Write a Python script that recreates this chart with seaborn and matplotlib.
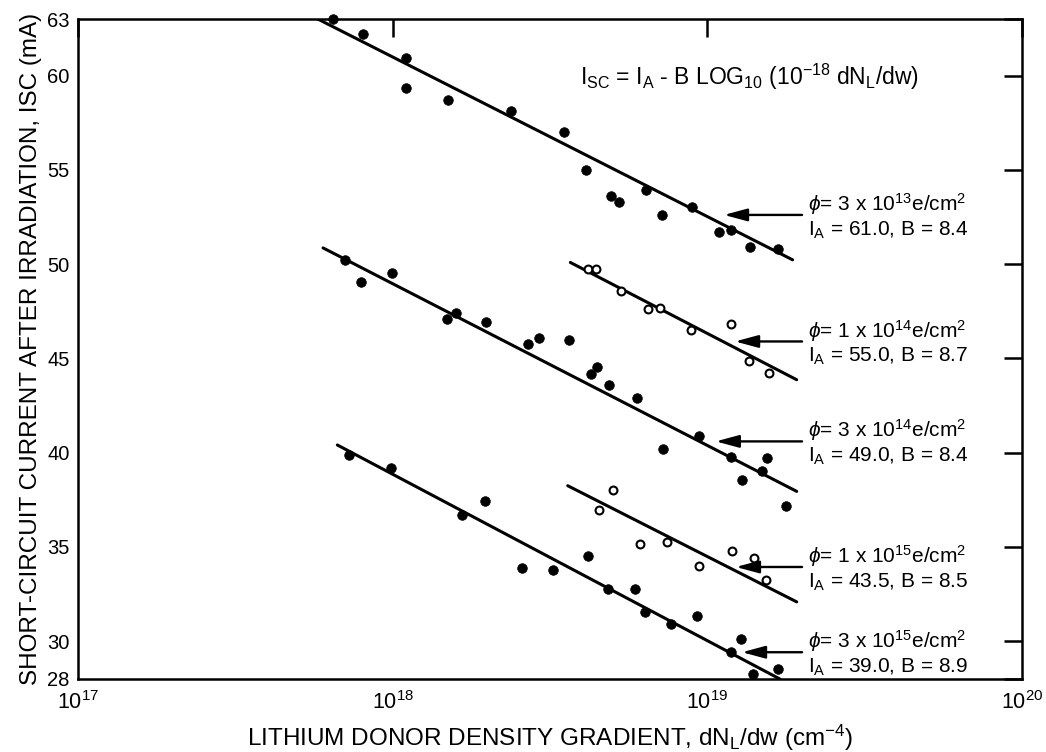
import matplotlib
matplotlib.use("Agg")
import matplotlib.pyplot as plt
import seaborn as sns
import pandas as pd

# ---------------- data ----------------
# phi = 3e13 e/cm^2 (filled)
s1_x = [6.46e17, 8.02e17, 1.099e18, 1.099e18, 1.496e18, 2.377e18, 3.499e18, 4.102e18,
        4.943e18, 5.248e18, 6.368e18, 7.161e18, 8.93e18, 1.089e19, 1.186e19, 1.371e19, 1.675e19]
s1_y = [63.0, 62.19, 60.93, 59.36, 58.71, 58.12, 57.0, 54.98,
        53.64, 53.3, 53.92, 52.61, 53.04, 51.68, 51.82, 50.92, 50.81]
# phi = 1e14 e/cm^2 (open)
s2_x = [4.183e18, 4.426e18, 5.303e18, 6.486e18, 7.047e18, 8.851e18, 1.186e19, 1.361e19, 1.570e19]
s2_y = [49.72, 49.76, 48.58, 47.6, 47.65, 46.5, 46.8, 44.84, 44.25]
# phi = 3e14 e/cm^2 (filled)
s3_x = [7.05e17, 7.93e17, 9.93e17, 1.489e18, 1.585e18, 1.982e18, 2.685e18, 2.911e18,
        3.622e18, 4.256e18, 4.446e18, 4.853e18, 5.957e18, 7.244e18, 9.419e18, 1.189e19,
        1.552e19, 1.496e19, 1.291e19, 1.778e19]
s3_y = [50.23, 49.05, 49.52, 47.08, 47.4, 46.93, 45.78, 46.06,
        45.96, 44.17, 44.55, 43.6, 42.89, 40.22, 40.87, 39.78,
        39.71, 39.01, 38.53, 37.19]
# phi = 1e15 e/cm^2 (open)
s4_x = [5.000e18, 4.529e18, 6.109e18, 7.430e18, 9.376e18, 1.194e19, 1.406e19, 1.535e19]
s4_y = [38.0, 36.94, 35.16, 35.25, 34.0, 34.77, 34.4, 33.25]
# phi = 3e15 e/cm^2 (filled)
s5_x = [7.29e17, 9.86e17, 1.663e18, 1.963e18, 2.570e18, 3.236e18, 4.169e18, 4.819e18,
        5.902e18, 6.339e18, 7.638e18, 9.247e18, 1.279e19, 1.186e19, 1.400e19, 1.679e19]
s5_y = [39.88, 39.17, 36.68, 37.46, 33.89, 33.8, 34.53, 32.77,
        32.78, 31.56, 30.9, 31.36, 30.14, 29.45, 28.25, 28.54]

# fitted lines (end points)
line_x0 = [5.78e17, 3.67e18, 6.01e17, 3.60e18, 6.67e17]
line_x1 = [1.866e19, 1.923e19, 1.923e19, 1.923e19, 1.70e19]
line_y0 = [63.0, 50.09, 50.86, 38.25, 40.41]
line_y1 = [50.23, 43.87, 37.95, 32.09, 28.0]

fluence_mant = [3, 1, 3, 1, 3]
fluence_exp = [13, 14, 14, 15, 15]
IA = ["61.0", "55.0", "49.0", "43.5", "39.0"]
Bval = ["8.4", "8.7", "8.4", "8.5", "8.9"]
filled = [True, False, True, False, True]

x_ticks = [1e17, 1e18, 1e19, 1e20]
x_ticklabels = ["$10^{17}$", "$10^{18}$", "$10^{19}$", "$10^{20}$"]
y_ticks = [28, 30, 35, 40, 45, 50, 55, 60, 63]

# ---------------- positions (annotation layout) ----------------
arrow_y = [52.61, 45.9, 40.6, 33.94, 29.42]
arrow_head_x = [1.13e19, 1.225e19, 1.064e19, 1.233e19, 1.289e19]
arrow_tail_x = 2.0e19
text_x = 2.09e19

# ---------------- style ----------------
sns.set_style("white")
plt.rcParams["font.family"] = ["Liberation Sans", "DejaVu Sans"]
plt.rcParams["mathtext.fontset"] = "custom"
plt.rcParams["mathtext.rm"] = "Liberation Sans"
plt.rcParams["mathtext.it"] = "Liberation Sans:italic"
plt.rcParams["mathtext.bf"] = "Liberation Sans:bold"
plt.rcParams["mathtext.sf"] = "Liberation Sans"
for k in ["text.color", "axes.labelcolor", "xtick.color", "ytick.color", "axes.edgecolor"]:
    plt.rcParams[k] = "black"

fig = plt.figure(figsize=(10.46, 7.52), dpi=100)
ax = fig.add_axes([78 / 1046, 1 - 679 / 752, (1022 - 78) / 1046, (679 - 19) / 752])

xs = [s1_x, s2_x, s3_x, s4_x, s5_x]
ys = [s1_y, s2_y, s3_y, s4_y, s5_y]

for i in range(5):
    dfl = pd.DataFrame({"x": [line_x0[i], line_x1[i]], "y": [line_y0[i], line_y1[i]]})
    sns.lineplot(data=dfl, x="x", y="y", ax=ax, color="black", linewidth=2.2,
                 estimator=None, sort=False)
    dfp = pd.DataFrame({"x": xs[i], "y": ys[i]})
    if filled[i]:
        sns.scatterplot(data=dfp, x="x", y="y", ax=ax, color="black", s=48,
                        edgecolor="black", linewidth=0.5, zorder=3, clip_on=False)
    else:
        sns.scatterplot(data=dfp, x="x", y="y", ax=ax, facecolor="white", s=32,
                        edgecolor="black", linewidth=1.5, zorder=3, clip_on=False)

ax.set_xscale("log")
ax.set_xlim(1e17, 1e20)
ax.set_ylim(28, 63)
ax.set_xticks(x_ticks)
ax.set_xticklabels(x_ticklabels)
ax.xaxis.set_minor_locator(matplotlib.ticker.NullLocator())
ax.set_yticks(y_ticks)
ax.set_yticklabels([str(v) for v in y_ticks])

for sp in ax.spines.values():
    sp.set_linewidth(1.8)
    sp.set_color("black")

ax.tick_params(axis="both", which="major", direction="in", width=1.8, color="black",
               top=True, right=True)
ax.tick_params(axis="x", length=13, pad=9, labelsize=15.5)
ax.tick_params(axis="y", length=13, pad=6, labelsize=14.5)

ax.set_xlabel("LITHIUM DONOR DENSITY GRADIENT, dN$_{\\rm L}$/dw (cm$^{-4}$)", fontsize=17.5, labelpad=6)
ax.set_ylabel("SHORT-CIRCUIT CURRENT AFTER IRRADIATION, ISC (mA)", fontsize=17.5, labelpad=4)

ax.text(3.94e18, 59.5, "I$_{\\rm SC}$ = I$_{\\rm A}$ - B LOG$_{10}$ (10$^{-18}$ dN$_{\\rm L}$/dw)",
        fontsize=16.5, ha="left", va="baseline")

for i in range(5):
    ax.annotate("", xy=(arrow_head_x[i], arrow_y[i]), xytext=(arrow_tail_x, arrow_y[i]),
                arrowprops=dict(arrowstyle="-|>,head_length=1.0,head_width=0.27",
                                color="black", lw=1.7, shrinkA=0, shrinkB=0, mutation_scale=14))
    ax.text(text_x, arrow_y[i] + 0.22,
            "$\\phi$= %d x 10$^{%d}$e/cm$^{2}$" % (fluence_mant[i], fluence_exp[i]),
            fontsize=15, ha="left", va="baseline")
    ax.text(text_x, arrow_y[i] - 1.08,
            "I$_{\\rm A}$ = %s, B = %s" % (IA[i], Bval[i]),
            fontsize=15, ha="left", va="baseline")

fig.savefig("out.png", dpi=100)
